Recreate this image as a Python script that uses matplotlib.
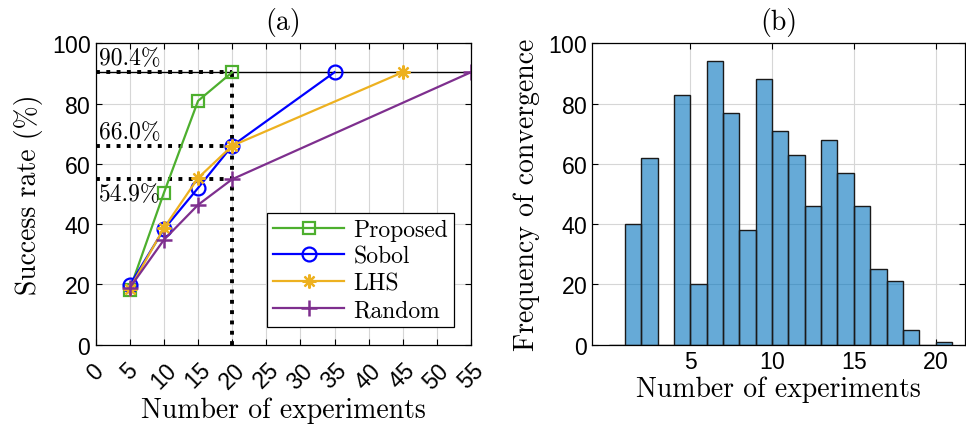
import numpy as np
import matplotlib
matplotlib.use('Agg')
import matplotlib.pyplot as plt

# panel (a) data
n_proposed = [5, 10, 15, 20]
sr_proposed = [18.3, 50.4, 80.9, 90.4]
n_sobol = [5, 10, 15, 20, 35]
sr_sobol = [19.8, 38.3, 52.0, 66.0, 90.4]
n_lhs = [5, 10, 15, 20, 45]
sr_lhs = [18.6, 38.7, 55.3, 66.0, 90.4]
n_random = [5, 10, 15, 20, 55]
sr_random = [18.9, 34.8, 46.4, 54.9, 90.4]

ref_levels = [90.4, 66.0, 54.9]
ref_labels = ['90.4%', '66.0%', '54.9%']
ref_n = 20

# panel (b) data: bins of width 1 starting at 0
bin_left = np.arange(0, 21)
counts = [0, 40, 62, 0, 83, 20, 94, 77, 38, 88, 71, 63, 46, 68, 57, 46, 25, 21, 5, 0, 1]

SERIF = 'cmr10'
SANS = ['Liberation Sans', 'DejaVu Sans']
plt.rcParams['font.family'] = SANS
plt.rcParams['axes.formatter.use_mathtext'] = True

fig = plt.figure(figsize=(9.66, 4.27), dpi=100)
W, H = 966, 427
ax1 = fig.add_axes([95.7 / W, 1 - 345.7 / H, (471 - 95.7) / W, (345.7 - 44.3) / H])
ax2 = fig.add_axes([592.3 / W, 1 - 345.7 / H, (965 - 592.3) / W, (345.7 - 44.3) / H])

for ax in (ax1, ax2):
    ax.tick_params(direction='in', top=True, right=True, labelsize=16.5, length=4, width=0.8)
    ax.grid(True, color='#d6d6d6', linewidth=0.8)
    ax.set_axisbelow(True)
    for s in ax.spines.values():
        s.set_linewidth(0.9)

# ---- (a)
ax1.axhline(ref_levels[0], color='black', linewidth=1.0, zorder=1)
for lvl in ref_levels:
    ax1.plot([0, ref_n], [lvl, lvl], ':', color='black', linewidth=2.8, zorder=2)
ax1.plot([ref_n, ref_n], [0, ref_levels[0]], ':', color='black', linewidth=2.8, zorder=2)

ax1.plot(n_proposed, sr_proposed, '-s', color='#4DAF2E', lw=1.6, ms=8.5, mfc='none', mew=1.6, label='Proposed')
ax1.plot(n_sobol, sr_sobol, '-o', color='#0000FF', lw=1.6, ms=10, mfc='none', mew=1.6, label='Sobol')
ax1.plot(n_lhs, sr_lhs, '-', marker=(8, 2, 0), color='#EDB120', lw=1.6, ms=10, mew=1.6, label='LHS')
ax1.plot(n_random, sr_random, '-+', color='#7E2F8E', lw=1.6, ms=11, mew=1.8, label='Random')

ax1.text(0.5, ref_levels[0] + 1.0, ref_labels[0], family=SERIF, fontsize=17, va='bottom')
ax1.text(0.5, ref_levels[1] + 1.0, ref_labels[1], family=SERIF, fontsize=17, va='bottom')
ax1.text(0.5, ref_levels[2] - 1.2, ref_labels[2], family=SERIF, fontsize=17, va='top')

ax1.set_xlim(0, 55)
ax1.set_ylim(0, 100)
ax1.set_xticks(np.arange(0, 56, 5))
ax1.set_yticks(np.arange(0, 101, 20))
for lab in ax1.get_xticklabels():
    lab.set_rotation(45)
    lab.set_ha('center')
    lab.set_va('top')
ax1.tick_params(axis='x', pad=10)
ax1.set_xlabel('Number of experiments', family=SERIF, fontsize=20, labelpad=2)
ax1.set_ylabel('Success rate (%)', family=SERIF, fontsize=20, labelpad=6)
ax1.set_title('(a)', family=SERIF, fontsize=20, pad=10)
leg = ax1.legend(loc='lower right', prop={'family': SERIF, 'size': 17}, fancybox=False,
                 edgecolor='black', framealpha=1, handlelength=3.0, borderpad=0.25,
                 labelspacing=0.2, handletextpad=0.4, borderaxespad=0,
                 bbox_to_anchor=(0.955, 0.058))
leg.get_frame().set_linewidth(0.9)

# ---- (b)
ax2.bar(bin_left, counts, width=1, align='edge', color='#0072BD', alpha=0.6,
        edgecolor='none', zorder=2)
ax2.bar(bin_left, counts, width=1, align='edge', facecolor='none',
        edgecolor='#1a1a1a', linewidth=1.0, zorder=3)
ax2.set_xlim(-1, 21.8)
ax2.set_ylim(0, 100)
ax2.set_xticks([5, 10, 15, 20])
ax2.set_yticks(np.arange(0, 101, 20))
ax2.set_xlabel('Number of experiments', family=SERIF, fontsize=20, labelpad=2)
ax2.set_ylabel('Frequency of convergence', family=SERIF, fontsize=20, labelpad=6)
ax2.set_title('(b)', family=SERIF, fontsize=20, pad=10)

fig.savefig('out.png', dpi=100)
